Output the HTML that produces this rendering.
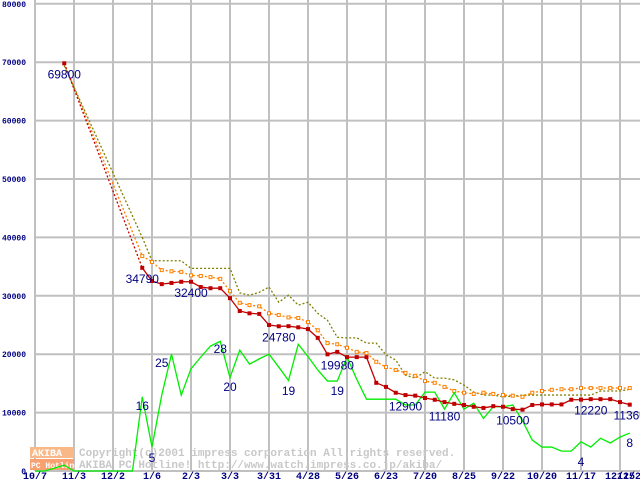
<!DOCTYPE html>
<html><head><meta charset="utf-8"><style>
body{margin:0;background:#fff;}
svg{display:block;font-family:"Liberation Mono",monospace;}
</style></head><body>
<svg id="chart" width="640" height="480" xmlns="http://www.w3.org/2000/svg">
<g id="grid"></g>
<g id="axes"></g>
<g id="wm">
<rect x="30" y="447" width="44" height="11" fill="#f8b888"></rect>
<rect x="30" y="459" width="44" height="11" fill="#f8a070"></rect>
<text x="32" y="456" font-size="10" fill="#fff" font-weight="bold">AKIBA</text>
<text x="31" y="468" font-size="8" fill="#fff" font-weight="bold">PC Hotline!</text>
<text x="79" y="456" font-size="11" fill="#c8c8c8" font-weight="bold">Copyright(c)2001 impress corporation All rights reserved.</text>
<text x="79" y="468" font-size="11" fill="#c8c8c8" font-weight="bold">AKIBA PC Hotline!  http://www.watch.impress.co.jp/akiba/</text>
</g>
<g id="series"></g>
<g id="labels"></g>
</svg>
<script>
const xTicks=["10/7","11/3","12/2","1/6","2/3","3/3","3/31","4/28","5/26","6/23","7/20","8/25","9/22","10/20","11/17","12/15"];
const yTicks=[0,10000,20000,30000,40000,50000,60000,70000,80000];
const redWeeks=[3,11,12,13,14,15,16,17,18,19,20,21,22,23,24,25,26,27,28,29,30,31,32,33,34,35,36,37,38,39,40,41,42,43,44,45,46,47,48,49,50,51,52,53,54,55,56,57,58,59,60,61];
const redVals=[69800,34790,32530,32000,32200,32400,32400,31500,31300,31300,29600,27400,27000,26900,25000,24780,24800,24600,24300,22800,19980,20400,19500,19500,19500,15100,14400,13400,13000,12900,12500,12200,11800,11500,11300,11000,10800,11100,11000,10600,10500,11300,11400,11400,11400,12200,12220,12300,12300,12300,11800,11360];
const orangeWeeks=[3,11,12,13,14,15,16,17,18,19,20,21,22,23,24,25,26,27,28,29,30,31,32,33,34,35,36,37,38,39,40,41,42,43,44,45,46,47,48,49,50,51,52,53,54,55,56,57,58,59,60,61];
const orangeVals=[69800,36800,35800,34400,34200,34100,33500,33400,33200,32900,30800,28800,28400,28200,27000,26700,26300,26200,25500,24100,21900,21700,21100,20400,20200,18700,17800,17300,16800,16300,15400,15100,14400,13700,13400,13200,13400,13200,13000,12900,12700,13400,13700,13900,14000,14000,14200,14200,14200,14200,14200,14200];
const oliveWeeks=[3,11,12,13,14,15,16,17,18,19,20,21,22,23,24,25,26,27,28,29,30,31,32,33,34,35,36,37,38,39,40,41,42,43,44,45,46,47,48,49,50,51,52,53,54,55,56,57,58,59,60,61];
const oliveVals=[69400,40000,36000,36000,36000,36000,34700,34700,34700,34700,34700,30500,30100,30600,31500,28900,30100,28400,28900,27000,25800,22900,22800,22800,21900,21900,19900,19000,16400,15900,17000,15900,15900,15600,14700,13500,13000,13000,12700,12800,13000,13000,13000,13000,13000,13000,13000,13000,13700,13700,13700,14000];
const greenWeeks=[0,1,2,3,4,5,6,7,8,9,10,11,12,13,14,15,16,17,18,19,20,21,22,23,24,25,26,27,28,29,30,31,32,33,34,35,36,37,38,39,40,41,42,43,44,45,46,47,48,49,50,51,52,53,54,55,56,57,58,59,60,61];
const greenVals=[0,0,500,1000,0,0,0,0,0,0,0,12700,4100,13000,20000,13000,17500,19500,21400,22200,16000,20700,18300,19200,20000,17800,15500,21700,19600,17300,15400,15400,19500,15700,12300,12300,12300,12300,11300,11300,13500,13500,10600,13400,10600,11600,9000,11000,11000,11300,8600,5300,4100,4100,3400,3400,5000,4100,5600,4800,5800,6500];
const labelWeeks=[3,11,16,25,31,38,42,49,57,61,11,12,13,19,20,26,31,56,61];
const labelVals=[69800,34790,32400,24780,19980,12900,11180,10500,12220,11360,16,5,25,28,20,19,19,4,8];
const labelYs=[69800,34790,32400,24780,19980,12900,11180,10500,12220,11360,13000,4100,20400,22800,16300,15600,15600,3400,6700];
const X0=35,WK=9.75,Y0=471,YU=58.4/10000;
const xs=w=>X0+w*WK, ys=v=>Y0-v*YU;
const NS="http://www.w3.org/2000/svg";
function mk(t,a,p){const e=document.createElementNS(NS,t);for(const k in a)e.setAttribute(k,a[k]);p.appendChild(e);return e;}
const grid=document.getElementById('grid'),axes=document.getElementById('axes'),ser=document.getElementById('series'),lab=document.getElementById('labels');
xTicks.forEach((t,i)=>{const x=X0+i*39;
 const l=mk('line',{x1:x,x2:x,y1:0,y2:Y0,stroke:'#c0c0c0','stroke-width':2},grid);
 
 
 const tx=mk('text',{x:x,y:479,'font-size':10,fill:'#000080','text-anchor':'middle','font-weight':'bold'},axes);tx.textContent=t;
 
 });
const tx2=mk('text',{x:632,y:479,'font-size':10,fill:'#000080','text-anchor':'middle','font-weight':'bold'},axes);tx2.textContent="12/22";


yTicks.forEach(v=>{const y=ys(v);
 const l=mk('line',{x1:X0,x2:640,y1:y,y2:y,stroke:'#c0c0c0','stroke-width':2},grid);
 
 
 const t=mk('text',{x:26,y:y+3,'font-size':8,fill:'#000080','text-anchor':'end','font-weight':'bold'},axes);t.textContent=v;
 
 });
function line(W,V,color,dash,name,gapDash){
 const p=mk('polyline',{points:W.slice(1).map((w,i)=>xs(w)+','+ys(V[i+1])).join(' '),fill:'none',stroke:color,'stroke-width':1.3,'stroke-dasharray':dash},ser);
 
 
 const g=mk('line',{x1:xs(W[0]),y1:ys(V[0]),x2:xs(W[1]),y2:ys(V[1]),stroke:color,'stroke-width':1.3,'stroke-dasharray':gapDash||dash},ser);
 
 }
line(oliveWeeks,oliveVals,'#808000','2,2','olive-line');
line(orangeWeeks,orangeVals,'#ff8000','2,2','orange-line');
orangeWeeks.forEach((w,i)=>{if(i===0)return;const r=mk('rect',{x:xs(w)-1.5,y:ys(orangeVals[i])-1.5,width:3,height:3,fill:'#fff',stroke:'#ff8000','stroke-width':1},ser);
 
 });
line(greenWeeks,greenVals,'#00ee00','','green-line');
line(redWeeks,redVals,'#c00000','','red-line','2,2');
redWeeks.forEach((w,i)=>{const r=mk('rect',{x:xs(w)-2,y:ys(redVals[i])-2,width:4,height:4,fill:'#c00000'},ser);
 
 });
labelWeeks.forEach((w,i)=>{const t=mk('text',{x:xs(w),y:ys(labelYs[i])+15,'font-size':12,fill:'#000080','text-anchor':'middle','font-family':'Liberation Sans,sans-serif'},lab);t.textContent=labelVals[i];
 
 });
</script>
</body></html>
